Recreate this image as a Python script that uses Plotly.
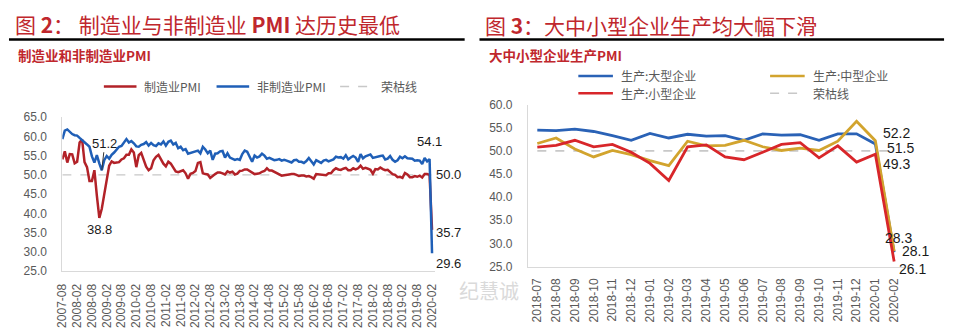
import plotly.graph_objects as go
import pandas as pd

W, H = 953, 331

# ---------------- data: left chart (monthly, 2007-08 .. 2020-02) ----------------
months_left = [d.strftime("%Y-%m") for d in pd.date_range("2007-08-01", "2020-02-01", freq="MS")]

mfg_pmi = [
    54.0, 56.1, 53.2, 55.4, 55.3,
    53.0, 53.4, 58.4, 59.2, 53.3, 52.0, 48.4, 48.4, 51.2, 44.6, 38.8, 41.2,
    45.3, 49.0, 52.4, 53.5, 53.1, 53.2, 53.3, 54.0, 54.3, 55.2, 55.2, 56.6,
    55.8, 52.0, 55.1, 55.7, 53.9, 52.1, 51.2, 51.7, 53.8, 54.7, 55.2, 53.9,
    52.9, 52.2, 53.4, 52.9, 52.0, 50.9, 50.7, 50.9, 51.2, 50.4, 49.0, 50.3,
    50.5, 51.0, 53.1, 53.3, 50.4, 50.2, 50.1, 49.2, 49.8, 50.2, 50.6, 50.6,
    50.4, 50.1, 50.9, 50.6, 50.8, 50.1, 50.3, 51.0, 51.1, 51.4, 51.4, 51.0,
    50.5, 50.2, 50.3, 50.4, 50.8, 51.0, 51.7, 51.1, 51.1, 50.8, 50.3, 50.1,
    49.8, 49.9, 50.1, 50.1, 50.2, 50.2, 50.0, 49.7, 49.8, 49.8, 49.6, 49.7,
    49.4, 49.0, 50.2, 50.1, 50.1, 50.0, 49.9, 50.4, 50.4, 51.2, 51.7, 51.4,
    51.3, 51.6, 51.8, 51.2, 51.2, 51.7, 51.4, 51.7, 52.4, 51.6, 51.8, 51.6,
    51.3, 50.3, 51.5, 51.4, 51.9, 51.5, 51.2, 51.3, 50.8, 50.2, 50.0, 49.4,
    49.5, 49.2, 50.5, 50.1, 49.4, 49.4, 49.7, 49.5, 49.8, 49.3, 50.2, 50.2,
    50.0, 35.7,
]

nonmfg_pmi = [
    59.3, 61.5, 61.8, 61.2, 60.6,
    60.3, 60.2, 59.6, 59.1, 58.4, 57.9, 57.3, 54.8, 53.2, 55.1, 53.0, 51.2,
    53.8, 54.9, 54.2, 55.2, 55.8, 56.5, 57.3, 57.5, 58.4, 59.3, 58.4, 58.8,
    58.2, 57.4, 57.3, 57.8, 58.0, 58.5, 57.6, 58.3, 57.7, 57.5, 58.2, 57.9,
    58.7, 57.6, 58.6, 58.9, 57.9, 58.3, 56.9, 57.3, 56.4, 56.7, 55.5, 55.7,
    55.8, 55.9, 56.3, 55.6, 57.3, 56.6, 55.6, 56.3, 53.9, 55.5, 55.6, 56.1,
    56.2, 54.5, 55.6, 54.5, 54.3, 53.9, 54.1, 53.9, 55.4, 56.3, 56.0, 54.6,
    53.4, 55.0, 54.5, 54.8, 55.5, 55.0, 54.2, 54.4, 54.0, 53.8, 53.9, 54.1,
    53.7, 53.9, 53.7, 53.4, 53.2, 53.8, 53.9, 53.4, 53.4, 53.1, 53.6, 54.4,
    53.5, 52.7, 53.8, 53.5, 53.1, 53.7, 53.9, 53.5, 53.7, 54.0, 54.7, 54.5,
    54.6, 54.2, 55.1, 54.0, 54.5, 54.9, 54.5, 53.4, 55.4, 54.3, 54.8, 55.0,
    55.3, 54.4, 54.6, 54.8, 54.9, 55.0, 54.0, 54.2, 54.9, 53.9, 53.4, 53.8,
    54.7, 54.3, 54.8, 54.3, 54.3, 54.2, 53.7, 53.8, 53.7, 52.8, 54.4, 53.5,
    54.1, 29.6,
]

# ---------------- data: right chart ----------------
months_right = [
    "2018-07", "2018-08", "2018-09", "2018-10", "2018-11", "2018-12",
    "2019-01", "2019-02", "2019-03", "2019-04", "2019-05", "2019-06",
    "2019-07", "2019-08", "2019-09", "2019-10", "2019-11", "2019-12",
    "2020-01", "2020-02",
]
prod_large = [54.5, 54.4, 54.7, 54.2, 53.3, 52.3, 53.8, 52.8, 53.6, 53.2,
              53.3, 52.3, 53.7, 53.4, 53.5, 52.3, 53.7, 53.7, 51.5, 28.1]
prod_medium = [51.6, 52.8, 50.4, 48.7, 50.1, 49.2, 47.9, 46.8, 52.1, 51.1,
               51.2, 52.3, 50.9, 50.1, 50.6, 50.1, 52.1, 56.4, 52.2, 28.3]
prod_small = [50.8, 51.2, 52.3, 50.9, 51.4, 49.7, 47.3, 43.6, 50.9, 51.3,
              48.7, 48.1, 49.7, 51.4, 51.8, 48.5, 51.1, 47.6, 49.3, 26.1]
threshold = 50.0

left_names = ["制造业PMI", "非制造业PMI", "荣枯线"]
right_names = ["生产:大型企业", "生产:中型企业", "生产:小型企业", "荣枯线"]

left_ticks = months_left[::6]
left_y_ticks = [25, 30, 35, 40, 45, 50, 55, 60, 65]
right_y_ticks = [25, 30, 35, 40, 45, 50, 55, 60]

# ---------------- styles ----------------
RED_T = "#C0272D"
C_MFG = "#B22228"
C_NON = "#1F5FB7"
C_LARGE = "#2A62B6"
C_MED = "#D2A42E"
C_SMALL = "#D8262A"
C_GRID = "#C8C8C8"
C_TXT = "#595959"
FONT = "Liberation Sans, Arial, Noto Sans CJK SC"
CJK = "Noto Sans CJK SC"


def fx(p):
    return p / W


def fy(p):
    return 1 - p / H


fig = go.Figure()

# left chart traces
fig.add_trace(go.Scatter(x=months_left, y=[threshold] * len(months_left), name=left_names[2], mode="lines",
                         line=dict(color=C_GRID, width=1.3, dash="dash"), xaxis="x", yaxis="y"))
fig.add_trace(go.Scatter(x=months_left, y=mfg_pmi, name=left_names[0], mode="lines",
                         line=dict(color=C_MFG, width=2.5), xaxis="x", yaxis="y"))
fig.add_trace(go.Scatter(x=months_left, y=nonmfg_pmi, name=left_names[1], mode="lines",
                         line=dict(color=C_NON, width=2.5), xaxis="x", yaxis="y"))

# right chart traces
fig.add_trace(go.Scatter(x=months_right, y=[threshold] * len(months_right), name=right_names[3], mode="lines",
                         line=dict(color=C_GRID, width=1.8, dash="dash"), xaxis="x2", yaxis="y2"))
fig.add_trace(go.Scatter(x=months_right, y=prod_large, name=right_names[0], mode="lines",
                         line=dict(color=C_LARGE, width=2.8), xaxis="x2", yaxis="y2"))
fig.add_trace(go.Scatter(x=months_right, y=prod_medium, name=right_names[1], mode="lines",
                         line=dict(color=C_MED, width=2.8), xaxis="x2", yaxis="y2"))
fig.add_trace(go.Scatter(x=months_right, y=prod_small, name=right_names[2], mode="lines",
                         line=dict(color=C_SMALL, width=2.8), xaxis="x2", yaxis="y2"))

axis_common = dict(showgrid=False, zeroline=False, showline=True, linecolor="#D9D9D9", linewidth=1,
                   ticks="", tickfont=dict(family=FONT, size=12, color=C_TXT))

fig.update_layout(
    width=W, height=H, margin=dict(l=0, r=0, t=0, b=0),
    paper_bgcolor="white", plot_bgcolor="white",
    showlegend=False,
    xaxis=dict(domain=[fx(56), fx(432.5)], type="category", range=[0, 151],
               tickmode="array", tickvals=left_ticks, ticktext=left_ticks, tickangle=-90,
               ticklabelstandoff=7, anchor="y", **axis_common),
    yaxis=dict(domain=[fy(275.7), fy(115)], range=[25, 65], tickvals=left_y_ticks,
               tickformat=".1f", ticklabelstandoff=12, anchor="x", **axis_common),
    xaxis2=dict(domain=[fx(527), fx(907)], type="category", range=[-0.5, 19.5],
                tickmode="array", tickvals=months_right, ticktext=months_right, tickangle=-90,
                ticklabelstandoff=6, anchor="y2", **axis_common),
    yaxis2=dict(domain=[fy(271), fy(102)], range=[25, 60], tickvals=right_y_ticks,
                tickformat=".1f", ticklabelstandoff=12, anchor="x2", **axis_common),
)

shapes = []
# title rules
shapes.append(dict(type="line", xref="paper", yref="paper", x0=fx(2), x1=fx(463), y0=fy(34), y1=fy(34),
                   line=dict(color="black", width=2.5)))
shapes.append(dict(type="line", xref="paper", yref="paper", x0=fx(478), x1=fx(948), y0=fy(34), y1=fy(34),
                   line=dict(color="black", width=2.5)))

ann = []
# titles
ann.append(dict(text="图 <b>2</b>： 制造业与非制造业 <b>PMI</b> 达历史最低", x=fx(6), y=fy(18),
                xref="paper", yref="paper", xanchor="left", yanchor="middle", showarrow=False,
                font=dict(family=CJK, size=21, color=RED_T)))
ann.append(dict(text="图 <b>3</b>：大中小型企业生产均大幅下滑", x=fx(482), y=fy(19),
                xref="paper", yref="paper", xanchor="left", yanchor="middle", showarrow=False,
                font=dict(family=CJK, size=21, color=RED_T)))
ann.append(dict(text="<b>制造业和非制造业PMI</b>", x=fx(9), y=fy(50), xref="paper", yref="paper",
                xanchor="left", yanchor="middle", showarrow=False,
                font=dict(family=CJK, size=13.5, color=RED_T)))
ann.append(dict(text="<b>大中小型企业生产PMI</b>", x=fx(486), y=fy(50), xref="paper", yref="paper",
                xanchor="left", yanchor="middle", showarrow=False,
                font=dict(family=CJK, size=13.5, color=RED_T)))

# legends (drawn as line samples + labels)
legend_font = dict(family=CJK, size=12, color=C_TXT)
left_legend = [
    (left_names[0], C_MFG, "solid", 2.5, 98, 83),
    (left_names[1], C_NON, "solid", 2.5, 212, 83),
    (left_names[2], C_GRID, "dash", 1.5, 337, 83),
]
right_legend = [
    (right_names[0], C_LARGE, "solid", 2.5, 578, 72),
    (right_names[1], C_MED, "solid", 2.5, 772, 72),
    (right_names[2], C_SMALL, "solid", 2.5, 578, 90),
    (right_names[3], C_GRID, "dash", 1.5, 772, 90),
]
for name, col, dash, wd, x0, yy in left_legend + right_legend:
    seg = 33 if x0 < 470 else 35
    shapes.append(dict(type="line", xref="paper", yref="paper", x0=fx(x0), x1=fx(x0 + seg),
                       y0=fy(yy), y1=fy(yy), line=dict(color=col, width=wd, dash=dash)))
    ann.append(dict(text=name, x=fx(x0 + seg + 6), y=fy(yy), xref="paper", yref="paper",
                    xanchor="left", yanchor="middle", showarrow=False, font=legend_font))

lab_font_l = dict(family=FONT, size=13, color="#1A1A1A")
lab_font_r = dict(family=FONT, size=14, color="#1A1A1A")

# left chart data labels
i_trough_non = 16
i_trough_mfg = 15
ann.append(dict(text="51.2", x=months_left[i_trough_non], y=nonmfg_pmi[i_trough_non], xref="x", yref="y",
                showarrow=True, arrowhead=0, arrowwidth=1, arrowcolor="#333333", ax=3, ay=-27,
                font=lab_font_l))
ann.append(dict(text="38.8", x=months_left[i_trough_mfg], y=mfg_pmi[i_trough_mfg], xref="x", yref="y",
                showarrow=False, yanchor="top", yshift=-2, font=lab_font_l))
ann.append(dict(text="54.1", x=months_left[-2], y=nonmfg_pmi[-2], xref="x", yref="y",
                showarrow=False, yanchor="bottom", yshift=8, font=lab_font_l))
ann.append(dict(text="50.0", x=months_left[-1], y=mfg_pmi[-2], xref="x", yref="y",
                showarrow=False, xanchor="left", xshift=2, font=lab_font_l))
ann.append(dict(text="35.7", x=months_left[-1], y=mfg_pmi[-1], xref="x", yref="y",
                showarrow=False, xanchor="left", xshift=2, yshift=-3, font=lab_font_l))
ann.append(dict(text="29.6", x=months_left[-1], y=nonmfg_pmi[-1], xref="x", yref="y",
                showarrow=False, xanchor="left", xshift=2, yshift=-10, font=lab_font_l))

# right chart data labels
ann.append(dict(text="52.2", x=months_right[-2], y=prod_medium[-2], xref="x2", yref="y2",
                showarrow=False, xanchor="left", xshift=6, yshift=8, font=lab_font_r))
ann.append(dict(text="51.5", x=months_right[-2], y=prod_large[-2], xref="x2", yref="y2",
                showarrow=False, xanchor="left", xshift=10, yshift=-4, font=lab_font_r))
ann.append(dict(text="49.3", x=months_right[-2], y=prod_small[-2], xref="x2", yref="y2",
                showarrow=False, xanchor="left", xshift=6, yshift=-10, font=lab_font_r))
ann.append(dict(text="28.3", x=months_right[-1], y=prod_medium[-1], xref="x2", yref="y2",
                showarrow=False, xanchor="center", xshift=4, yshift=13, font=lab_font_r))
ann.append(dict(text="28.1", x=months_right[-1], y=prod_large[-1], xref="x2", yref="y2",
                showarrow=False, xanchor="left", xshift=6, yshift=1, font=lab_font_r))
ann.append(dict(text="26.1", x=months_right[-1], y=prod_small[-1], xref="x2", yref="y2",
                showarrow=False, xanchor="left", xshift=3, yshift=-8, font=lab_font_r))

# watermark
ann.append(dict(text="纪慧诚", x=fx(488), y=fy(313), xref="paper", yref="paper", showarrow=False,
                font=dict(family=CJK, size=20, color="#DADADA")))

fig.update_layout(annotations=ann, shapes=shapes)

fig.write_html("out.html")
